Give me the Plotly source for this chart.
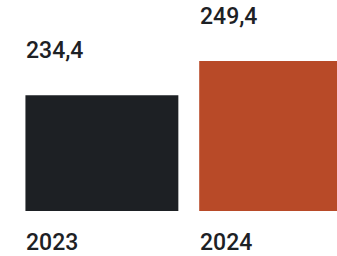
import plotly.graph_objects as go

years = ["2023", "2024"]
values = [234.4, 249.4]
value_labels = ["234,4", "249,4"]
colors = ["#1d2024", "#b84a28"]

y_base = 183.4
y_top = 276.3
x_pos = [0, 1]
bar_w = 0.88

fig = go.Figure()
fig.add_trace(go.Bar(
    x=x_pos, y=[v - y_base for v in values], base=y_base,
    width=bar_w, marker=dict(color=colors, line=dict(width=0)),
    hoverinfo="skip",
))

font = dict(family="Roboto, Liberation Sans, Arial, sans-serif", size=23,
            color="#1d2125", weight=500)
for xi, v, lab, yr in zip(x_pos, values, value_labels, years):
    fig.add_annotation(x=xi - bar_w / 2, y=v, text=lab, xref="x", yref="y",
                       xanchor="left", yanchor="bottom", showarrow=False,
                       yshift=29, xshift=-1, font=font)
    fig.add_annotation(x=xi - bar_w / 2, y=y_base, text=yr, xref="x", yref="y",
                       xanchor="left", yanchor="top", showarrow=False,
                       yshift=-16, xshift=-1, font=font)

fig.update_layout(
    width=337, height=256,
    margin=dict(l=14.5, r=0, t=0, b=45.3),
    paper_bgcolor="white", plot_bgcolor="white",
    showlegend=False,
    xaxis=dict(range=[-0.5, 1.353], visible=False, fixedrange=True),
    yaxis=dict(range=[y_base, y_top], visible=False, fixedrange=True),
)
fig.write_html("out.html", config={"displayModeBar": False},
               post_script="document.body.style.margin='0';")
